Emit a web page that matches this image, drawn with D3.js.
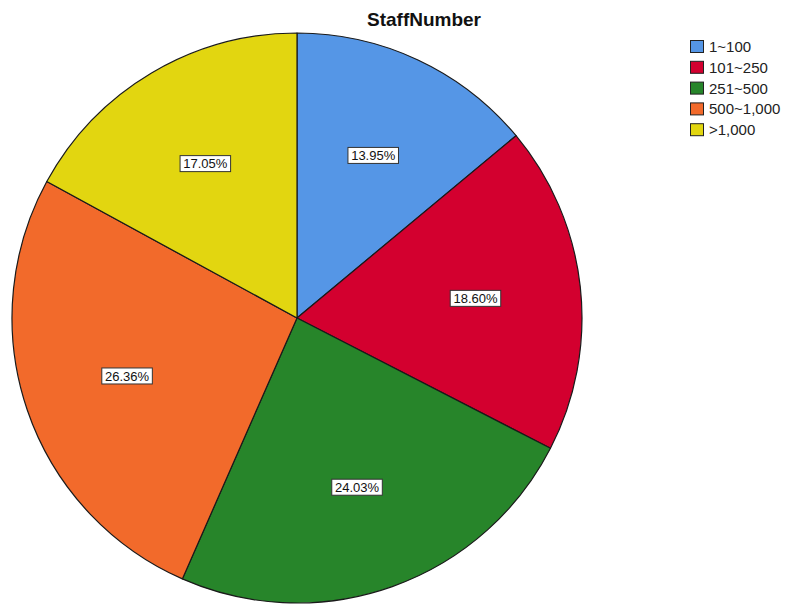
<!DOCTYPE html>
<html>
<head>
<meta charset="utf-8">
<script src="https://cdn.jsdelivr.net/npm/d3@7"></script>
<style>
  html, body { margin: 0; padding: 0; background: #fff; }
  svg { display: block; }
</style>
</head>
<body>
<svg id="chart" width="787" height="605"></svg>
<script>
// Staff size groups and respondent counts (n = 129)
const categories = ["1~100", "101~250", "251~500", "500~1,000", ">1,000"];
const counts = [18, 24, 31, 34, 22];
const colors = ["#5596e6", "#d3002f", "#27852a", "#f26a2b", "#e2d610"];
const title = "StaffNumber";

const width = 787, height = 605;
const cx = 297, cy = 318, radius = 285;

const svg = d3.select("#chart");
const total = d3.sum(counts);
const data = categories.map((c, i) => ({ cat: c, value: counts[i], color: colors[i] }));

const pie = d3.pie().value(d => d.value).sort(null).startAngle(0).endAngle(2 * Math.PI);
const arcs = pie(data);
const arc = d3.arc().innerRadius(0).outerRadius(radius);
const labelArc = d3.arc().innerRadius(radius * 0.63).outerRadius(radius * 0.63);

const g = svg.append("g").attr("transform", `translate(${cx},${cy})`);

g.selectAll("path.slice")
  .data(arcs)
  .join("path")
  .attr("class", "slice")
  .attr("d", arc)
  .attr("fill", d => d.data.color)
  .attr("stroke", "#1a1a1a")
  .attr("stroke-width", 1.2)
  .attr("stroke-linejoin", "round");

// Percentage labels in white boxes
const fmt = v => (v / total * 100).toFixed(2) + "%";
const labels = g.selectAll("g.lbl")
  .data(arcs)
  .join("g")
  .attr("class", "lbl")
  .attr("transform", d => `translate(${labelArc.centroid(d)})`);

labels.each(function(d) {
  const sel = d3.select(this);
  const t = sel.append("text")
    .attr("text-anchor", "middle")
    .attr("dy", "0.36em")
    .attr("font-family", "Arial, 'Liberation Sans', sans-serif")
    .attr("font-size", 13)
    .attr("fill", "#111")
    .text(fmt(d.data.value));
  const bb = t.node().getBBox();
  sel.insert("rect", "text")
    .attr("x", -bb.width / 2 - 3)
    .attr("y", -8)
    .attr("width", bb.width + 6)
    .attr("height", 16)
    .attr("fill", "#fff")
    .attr("stroke", "#333")
    .attr("stroke-width", 1);
});

// Title
svg.append("text")
  .attr("x", 424)
  .attr("y", 26)
  .attr("text-anchor", "middle")
  .attr("font-family", "Arial, 'Liberation Sans', sans-serif")
  .attr("font-weight", "bold")
  .attr("font-size", 19)
  .attr("fill", "#111")
  .text(title);

// Legend
const legend = svg.append("g").attr("transform", "translate(690,40)");
const rows = legend.selectAll("g.row")
  .data(data)
  .join("g")
  .attr("class", "row")
  .attr("transform", (d, i) => `translate(0,${i * 20.8})`);
rows.append("rect")
  .attr("x", 0.5).attr("y", 0.5)
  .attr("width", 13).attr("height", 12)
  .attr("fill", d => d.color)
  .attr("stroke", "#222")
  .attr("stroke-width", 1);
rows.append("text")
  .attr("x", 19)
  .attr("y", 12)
  .attr("font-family", "Arial, 'Liberation Sans', sans-serif")
  .attr("font-size", 15)
  .attr("fill", "#222")
  .text(d => d.cat);
</script>
</body>
</html>
